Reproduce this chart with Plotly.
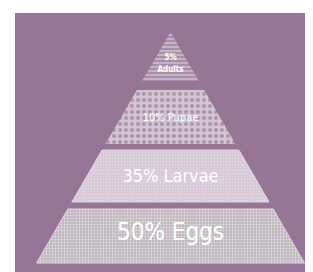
import plotly.graph_objects as go

# ---- data ----
stages = ["Adults", "Pupae", "Larvae", "Eggs"]
percents = [5, 10, 35, 50]

# ---- styling / geometry (pixel space of the 313x272 picture) ----
W, H = 313, 272
apex_x, apex_y, slope = 162.5, 24, 0.58
band_top = [apex_y, 82, 142, 201]
band_bottom = [73, 136, 194, 255]
fill_bg = ["#a98ea9", "#d4c5d4", "#d8cad8", "#bfb9bf"]
pat_shape = ["-", ".", ".", "."]
pat_fg = ["#d8cad8", "#ae96ae", "#e6dce6", "#e3dfe3"]
pat_size = [4, 6, 3, 3]
pat_sol = [0.3, 0.35, 0.2, 0.3]
line_col = ["rgba(0,0,0,0)", "rgba(0,0,0,0)", "#e2d4e2", "#e3d3e3"]
font_size = [8, 11, 18, 24]
text_y = [None, 110, 169, 226]
bg = "#967596"

fig = go.Figure()
for i, st in enumerate(stages):
    t, b = band_top[i], band_bottom[i]
    ht, hb = (t - apex_y) * slope, (b - apex_y) * slope
    xs = [apex_x - ht, apex_x + ht, apex_x + hb, apex_x - hb, apex_x - ht]
    ys = [t, t, b, b, t]
    fig.add_trace(go.Scatter(
        x=xs, y=ys, mode="lines", fill="toself",
        fillcolor=fill_bg[i],
        fillpattern=dict(shape=pat_shape[i], fgcolor=pat_fg[i], bgcolor=fill_bg[i],
                         size=pat_size[i], solidity=pat_sol[i], fillmode="replace"),
        line=dict(color=line_col[i], width=1),
        hoverinfo="skip", showlegend=False))

font_family = "Liberation Sans Narrow, DejaVu Sans Condensed, Roboto, sans-serif"
for i, st in enumerate(stages):
    if i == 0:
        fig.add_trace(go.Scatter(
            x=[apex_x, apex_x], y=[50, 62], mode="text",
            text=[f"<b>{percents[i]}%</b>", f"<b>{st}</b>"],
            textfont=dict(size=font_size[i], color="white", family=font_family),
            hoverinfo="skip", showlegend=False))
    else:
        fig.add_trace(go.Scatter(
            x=[apex_x], y=[text_y[i]], mode="text",
            text=[f"{percents[i]}% {st}"],
            textfont=dict(size=font_size[i], color="white", family=font_family),
            hoverinfo="skip", showlegend=False))

fig.update_xaxes(range=[7, W], visible=False, fixedrange=True)
fig.update_yaxes(range=[H, 5], visible=False, fixedrange=True)
fig.update_layout(
    width=W, height=H,
    margin=dict(l=7, r=0, t=5, b=0),
    paper_bgcolor="white", plot_bgcolor=bg,
)
fig.write_html("out.html", config={"displayModeBar": False})
